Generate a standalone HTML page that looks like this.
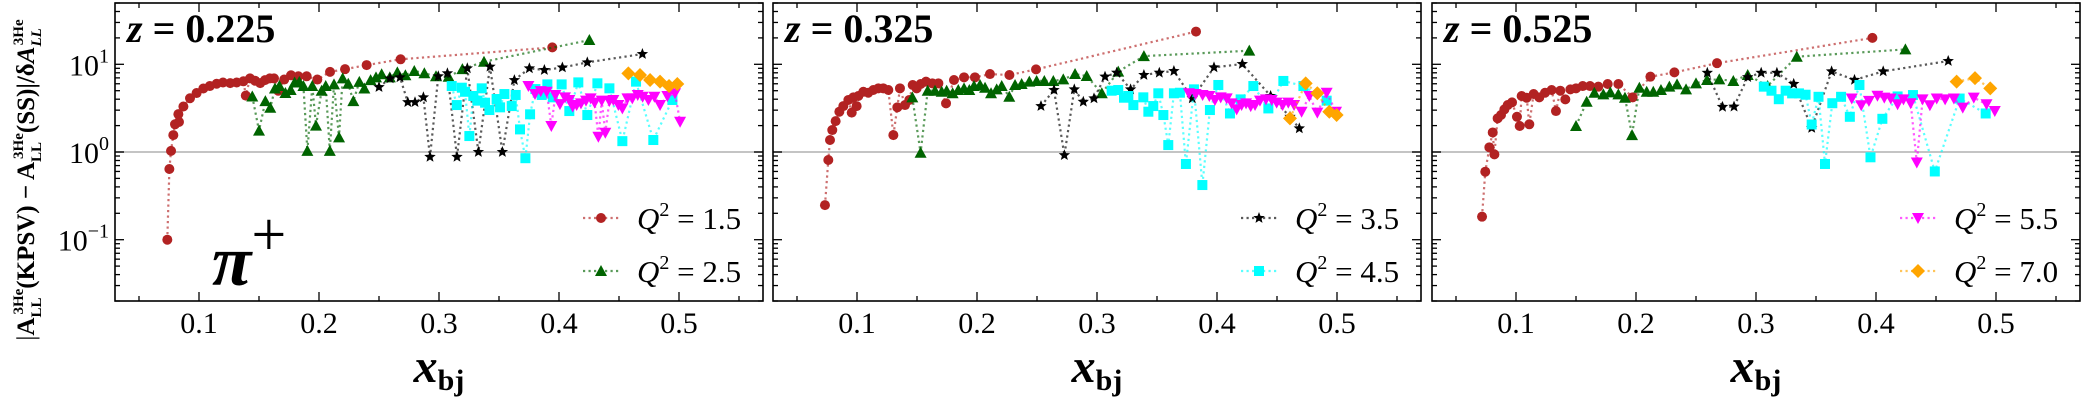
<!DOCTYPE html>
<html><head><meta charset="utf-8"><style>
html,body{margin:0;padding:0;background:#fff;}
svg{display:block;}
text{font-family:"Liberation Serif","DejaVu Serif",serif;}
</style></head><body>
<svg id="chart" width="2100" height="400" viewBox="0 0 2100 400" xmlns="http://www.w3.org/2000/svg" font-family="'Liberation Serif', 'DejaVu Serif', serif">
<rect width="2100" height="400" fill="#fff"/>
<g id="ylabel" transform="translate(34,180) rotate(-90)">
<text x="0" y="0" text-anchor="middle" font-size="25" font-family="'Liberation Serif', serif">|<tspan font-weight="bold">A</tspan><tspan font-size="15" dy="7" font-weight="bold">LL</tspan><tspan font-size="15" dy="-18" dx="-17" font-weight="bold">3He</tspan><tspan dy="11" font-weight="bold">(KPSV) − A</tspan><tspan font-size="15" dy="7" font-weight="bold">LL</tspan><tspan font-size="15" dy="-18" dx="-17" font-weight="bold">3He</tspan><tspan dy="11" font-weight="bold">(SS)|/δ</tspan><tspan font-style="italic" font-weight="bold">A</tspan><tspan font-size="15" dy="7" font-style="italic" font-weight="bold">LL</tspan><tspan font-size="15" dy="-18" dx="-17" font-weight="bold">3He</tspan></text>
</g>
</svg>
<script>
// ---- data: panel z=0.225 ----
const p1_q15_x=[.0736,.0753,.0767,.0786,.08,.0828,.0833,.087,.0925,.098,.1036,.109,.1147,.12,.126,.1314,.137,.139,.1425,.1467,.151,.155,.159,.1625,.166,.171,.1767,.1828,.1897,.1986,.2092,.2217,.2397,.268,.3944];
const p1_q15_y=[0.1,0.64,1.03,1.56,2.07,2.7,2.2,3.3,4.1,4.7,5.3,5.65,6.0,6.2,6.1,6.2,6.4,4.4,6.9,6.5,6.1,6.6,6.9,6.9,5.0,6.7,7.5,7.3,7.3,6.7,8.2,8.8,9.8,11.4,15.6];
const p1_q25_x=[.1444,.15,.1553,.1594,.1633,.167,.172,.1764,.1797,.1836,.187,.1903,.1944,.1975,.2022,.2056,.209,.2125,.2167,.2197,.2244,.2286,.2336,.2378,.243,.2475,.2522,.259,.2653,.272,.2794,.2878,.2975,.308,.3195,.3375,.4253];
const p1_q25_y=[4.3,1.75,3.8,3.2,5.3,5.65,4.7,5.1,6.2,6.3,5.65,1.03,5.65,2.0,5.0,5.65,1.03,5.9,1.47,6.9,6.0,3.8,6.3,5.3,6.6,7.1,7.7,7.1,8.1,7.5,8.4,7.9,7.3,7.2,8.8,10.7,18.9];
const p1_q35_x=[.25,.2592,.2675,.274,.28,.287,.2925,.2994,.307,.315,.3236,.3328,.3425,.3528,.3628,.3753,.3878,.4028,.4236,.4695];
const p1_q35_y=[5.5,6.9,7.1,3.7,3.7,4.2,0.88,7.3,7.9,0.88,9.0,1.0,9.4,1.0,6.6,9.0,8.6,9.2,10.5,13.1];
const p1_q45_x=[.3106,.3148,.319,.3217,.3253,.3286,.332,.3356,.3384,.342,.348,.3509,.3545,.3606,.3639,.3675,.372,.3759,.3803,.3856,.3903,.3948,.4022,.4086,.4161,.4236,.432,.442,.4528,.4642,.4786,.4945];
const p1_q45_y=[5.65,3.43,5.41,4.86,1.52,4.35,3.85,5.32,3.65,3.01,4.02,3.23,4.58,3.34,4.47,1.81,0.85,2.69,5.22,4.47,5.9,4.2,5.9,2.93,6.22,2.64,6.07,5.32,1.33,6.34,1.37,3.92];
const p1_q55_x=[.3745,.38,.3848,.3898,.3936,.397,.4008,.405,.4086,.4114,.4147,.4183,.4225,.4264,.4297,.4328,.4356,.4386,.442,.4453,.4495,.4528,.457,.4611,.4656,.4697,.4745,.4795,.4842,.4903,.4967,.5009];
const p1_q55_y=[5.65,4.58,4.95,4.86,1.98,4.47,3.52,4.2,3.92,3.29,3.43,3.59,3.85,4.09,3.65,1.49,3.85,1.66,3.81,3.92,3.43,3.14,4.09,4.09,4.47,4.27,3.92,4.27,3.43,4.35,4.67,2.21];
const p1_q70_x=[.4578,.4675,.4759,.4842,.4917,.4986];
const p1_q70_y=[7.89,7.55,6.62,6.34,5.65,5.96];
// ---- data: panel z=0.325 ----
const p2_q15_x=[.0733,.0761,.0775,.0794,.0822,.0853,.0886,.0928,.0956,.097,.0997,.1011,.1053,.1094,.1136,.1178,.1219,.1261,.1303,.1336,.1358,.14,.1436,.1464,.1497,.1531,.1575,.1628,.1678,.1742,.1808,.1892,.1983,.2108,.227,.2492,.3825];
const p2_q15_y=[.248,.81,1.37,1.78,2.25,2.88,3.34,3.92,2.81,4.2,3.34,4.35,4.86,4.74,5.09,5.32,5.32,5.09,1.56,3.23,5.32,3.43,3.92,5.81,5.32,5.96,6.34,6.07,6.07,3.59,6.62,7.1,7.1,7.74,7.55,8.75,23.6];
const p2_q25_x=[.1461,.153,.1589,.165,.1706,.1747,.1797,.1844,.1892,.1936,.1975,.2025,.2067,.2117,.2164,.2206,.2269,.2317,.2372,.2436,.2497,.2561,.2636,.2719,.2817,.2914,.304,.3177,.3391,.4269];
const p2_q25_y=[4.2,.98,5.0,5.0,4.86,5.0,4.67,5.09,5.32,5.09,5.65,5.81,5.41,4.67,5.18,5.65,4.27,5.81,5.96,6.34,6.46,6.46,6.46,6.73,7.74,7.35,4.67,8.24,12.4,14.3];
const p2_q35_x=[.2533,.2642,.2728,.2811,.2886,.2975,.3067,.3164,.328,.3391,.3519,.3641,.3794,.3975,.4211,.4447,.4608,.4686];
const p2_q35_y=[3.34,5.09,.92,5.18,3.74,4.09,7.23,8.02,5.18,7.55,8.02,8.38,4.09,9.23,10.07,4.35,2.52,1.86];
const p2_q45_x=[.3122,.3177,.3225,.3261,.3303,.3386,.3428,.3469,.3511,.3553,.3594,.3641,.3691,.3741,.3808,.3878,.3941,.4011,.4108,.4197,.4303,.4428,.4553,.472,.4914];
const p2_q45_y=[5.0,5.09,4.16,4.35,3.43,4.2,2.88,3.34,4.67,2.64,1.2,4.67,4.74,.73,5.18,.42,3.01,5.81,2.75,3.98,5.65,3.14,6.46,5.65,3.85];
const p2_q55_x=[.3766,.3822,.388,.3936,.3983,.4031,.4081,.4122,.4164,.4205,.4242,.4281,.4317,.4358,.4408,.4456,.4497,.4547,.4594,.4642,.4705,.4769,.4836,.4914,.4992];
const p2_q55_y=[4.67,4.58,4.47,4.35,3.92,4.2,4.09,3.59,3.06,3.43,3.59,3.34,3.43,3.85,3.98,3.92,3.65,3.43,3.65,3.43,2.88,4.35,2.81,4.74,2.88];
const p2_q70_x=[.4608,.4739,.4836,.4936,.4997];
const p2_q70_y=[2.42,6.07,4.67,2.88,2.64];
// ---- data: panel z=0.525 ----
const p3_q15_x=[.0717,.0744,.0778,.0806,.082,.0847,.0875,.0903,.0931,.0967,.1008,.1031,.1047,.1089,.1111,.1147,.1194,.1242,.1297,.1333,.1369,.1411,.1453,.15,.1556,.1617,.1686,.1764,.1853,.1972,.212,.232,.2675,.397];
const p3_q15_y=[.183,.596,1.13,1.67,.94,2.42,2.64,3.06,3.43,3.68,2.52,1.98,4.35,4.16,2.07,4.58,4.2,4.74,5.09,2.93,5.0,3.98,5.18,5.32,5.65,5.65,5.56,5.96,5.96,4.2,7.23,8.09,10.3,20];
const p3_q25_x=[.15,.1589,.1653,.1728,.1786,.1853,.1908,.1967,.2028,.2089,.2144,.2208,.2278,.2342,.2417,.25,.2592,.2694,.2811,.2931,.3097,.334,.4245];
const p3_q25_y=[1.98,3.74,4.74,4.54,4.79,4.54,4.16,1.56,5.41,4.86,4.86,5.09,5.56,5.9,5.18,6.07,6.62,6.73,6.46,7.55,5.65,12.2,14.8];
const p3_q35_x=[.2594,.2721,.2817,.2931,.3043,.3174,.3314,.3464,.363,.3821,.406,.4602];
const p3_q35_y=[8.0,3.27,3.29,7.13,8.0,8.0,5.97,1.88,8.3,6.64,8.3,10.9];
const p3_q45_x=[.3065,.3129,.319,.3247,.3301,.3358,.3413,.3464,.3521,.3575,.3636,.3709,.3782,.3862,.3954,.4053,.418,.4308,.449,.4697,.4914];
const p3_q45_y=[5.56,5.0,4.0,5.0,4.66,4.66,4.5,2.06,4.26,.73,3.6,4.26,2.52,5.81,.87,2.39,4.3,4.46,.6,4.07,2.75];
const p3_q55_x=[.3798,.3877,.3941,.4012,.4069,.4123,.418,.4229,.4289,.434,.4388,.4449,.4506,.4576,.4649,.4723,.4815,.4921,.499];
const p3_q55_y=[4.07,3.41,3.83,4.38,4.17,4.07,3.5,3.98,3.6,.76,3.98,3.41,4.07,3.98,4.07,3.21,4.17,3.5,2.93];
const p3_q70_x=[.4672,.4825,.4952];
const p3_q70_y=[6.35,6.95,5.32];

const zLabels=["0.225","0.325","0.525"];
const xTicks=[0.1,0.2,0.3,0.4,0.5];
const xTickLabels=["0.1","0.2","0.3","0.4","0.5"];
const yTickExps=[-1,0,1];
const q2Labels=["1.5","2.5","3.5","4.5","5.5","7.0"];

const NS="http://www.w3.org/2000/svg";
const FONT="'Liberation Serif', 'DejaVu Serif', serif";
const svg=document.getElementById('chart');
const TOP=3,BOT=301,W=648,XMIN=0.03,XMAX=0.57,YMIN=Math.log10(0.02),YMAX=Math.log10(50);
const LEFTS=[115,773,1432];
const COLORS=["#b22222","#006400","#000000","#00ffff","#ff00ff","#ffa500"];
const SHAPES=["circle","tri","star","square","tridown","diamond"];
function mk(tag,attrs,parent){const e=document.createElementNS(NS,tag);for(const k in attrs)e.setAttribute(k,attrs[k]);if(tag==='text')e.setAttribute('font-family',FONT);(parent||svg).appendChild(e);return e;}
function xs(L,v){return L+(v-XMIN)/(XMAX-XMIN)*W;}
function ys(v){return TOP+(YMAX-Math.log10(v))/(YMAX-YMIN)*(BOT-TOP);}
function marker(shape,cx,cy,col,g){
  let e;
  if(shape==="circle")e=mk('circle',{cx:cx,cy:cy,r:5,fill:col},g);
  else if(shape==="square")e=mk('rect',{x:cx-5,y:cy-5,width:10,height:10,fill:col},g);
  else if(shape==="tri")e=mk('polygon',{points:`${cx},${cy-6} ${cx-6},${cy+5} ${cx+6},${cy+5}`,fill:col},g);
  else if(shape==="tridown")e=mk('polygon',{points:`${cx},${cy+6} ${cx-6},${cy-5} ${cx+6},${cy-5}`,fill:col},g);
  else if(shape==="diamond")e=mk('polygon',{points:`${cx},${cy-7} ${cx+7},${cy} ${cx},${cy+7} ${cx-7},${cy}`,fill:col},g);
  else{let p=[];for(let i=0;i<10;i++){const r=i%2?2.6:6,a=-Math.PI/2+i*Math.PI/5;p.push((cx+r*Math.cos(a)).toFixed(1)+","+(cy+r*Math.sin(a)).toFixed(1));}
    e=mk('polygon',{points:p.join(' '),fill:col},g);}
  return e;
}
const panels=[
 [[p1_q15_x,p1_q15_y],[p1_q25_x,p1_q25_y],[p1_q35_x,p1_q35_y],[p1_q45_x,p1_q45_y],[p1_q55_x,p1_q55_y],[p1_q70_x,p1_q70_y]],
 [[p2_q15_x,p2_q15_y],[p2_q25_x,p2_q25_y],[p2_q35_x,p2_q35_y],[p2_q45_x,p2_q45_y],[p2_q55_x,p2_q55_y],[p2_q70_x,p2_q70_y]],
 [[p3_q15_x,p3_q15_y],[p3_q25_x,p3_q25_y],[p3_q35_x,p3_q35_y],[p3_q45_x,p3_q45_y],[p3_q55_x,p3_q55_y],[p3_q70_x,p3_q70_y]]
];
const legendSets=[[0,1],[2,3],[4,5]];
panels.forEach((series,pi)=>{
  const L=LEFTS[pi];
  const g=mk('g',{});
  
  
  const ref=mk('line',{x1:L,x2:L+W,y1:ys(1),y2:ys(1),stroke:"#c4c4c4","stroke-width":2},g);
  
  
  series.forEach((s,si)=>{
    const sg=mk('g',{},g);
    
    
    const pts=s[0].map((x,i)=>xs(L,x).toFixed(1)+","+ys(s[1][i]).toFixed(1)).join(' ');
    const pl=mk('polyline',{points:pts,fill:"none",stroke:COLORS[si],"stroke-width":2.2,"stroke-dasharray":"2.2,3.3","stroke-opacity":0.65},sg);
    
    
    s[0].forEach((x,i)=>{
      const m=marker(SHAPES[si],xs(L,x),ys(s[1][i]),COLORS[si],sg);
      
      
    });
  });
  const fr=mk('rect',{x:L,y:TOP,width:W,height:BOT-TOP,fill:"none",stroke:"#000","stroke-width":1.6},g);
  
  
  for(let v=0.05;v<0.571;v+=0.05){
    const X=xs(L,v),major=Math.abs(v*10-Math.round(v*10))<1e-6,len=major?9:5;
    mk('line',{x1:X,x2:X,y1:BOT,y2:BOT-len,stroke:"#000","stroke-width":1.3},g);
    mk('line',{x1:X,x2:X,y1:TOP,y2:TOP+len,stroke:"#000","stroke-width":1.3},g);
  }
  xTicks.forEach((v,i)=>{
    const t=mk('text',{x:xs(L,v),y:333,"text-anchor":"middle","font-size":30},g);
    t.textContent=xTickLabels[i];
    
    
  });
  for(let e=-2;e<=1;e++){for(let m=1;m<10;m++){
    const v=m*Math.pow(10,e);if(v<0.02||v>50)continue;
    const Y=ys(v),len=m===1?9:5;
    mk('line',{x1:L,x2:L+len,y1:Y,y2:Y,stroke:"#000","stroke-width":1.3},g);
    mk('line',{x1:L+W,x2:L+W-len,y1:Y,y2:Y,stroke:"#000","stroke-width":1.3},g);
  }}
  if(pi===0){
    yTickExps.forEach(e=>{
      const t=mk('text',{x:L-6,y:ys(Math.pow(10,e))+11,"text-anchor":"end","font-size":30},g);
      t.innerHTML='10<tspan font-size="20" dy="-13">'+(e<0?'−'+(-e):e)+'</tspan>';
      
      
    });
  }
  const zl=mk('text',{x:L+12,y:42,"font-size":40,"font-weight":"bold"},g);
  zl.innerHTML='<tspan font-style="italic">z</tspan> = '+zLabels[pi];
  
  
  const xt=mk('text',{x:L+W/2,y:382,"text-anchor":"middle","font-size":48,"font-weight":"bold"},g);
  xt.innerHTML='<tspan font-style="italic">x</tspan><tspan font-size="30" dy="8">bj</tspan>';
  
  
  legendSets[pi].forEach((si,k)=>{
    const Y=218+k*53;
    const lg=mk('g',{},g);
    
    
    mk('line',{x1:L+468,x2:L+504,y1:Y,y2:Y,stroke:COLORS[si],"stroke-width":2.2,"stroke-dasharray":"2.2,3.3","stroke-opacity":0.65},lg);
    marker(SHAPES[si],L+486,Y,COLORS[si],lg);
    const t=mk('text',{x:L+522,y:Y+11,"font-size":31},lg);
    t.innerHTML='<tspan font-style="italic">Q</tspan><tspan font-size="20" dy="-13">2</tspan><tspan dy="13"> = '+q2Labels[si]+'</tspan>';
  });
});
const pi=mk('text',{x:212,y:285,"font-size":72,"font-weight":"bold","font-style":"italic"});
pi.innerHTML='π<tspan font-weight="normal" font-style="normal" font-size="62" dy="-30">+</tspan>';


</script>
</body></html>
